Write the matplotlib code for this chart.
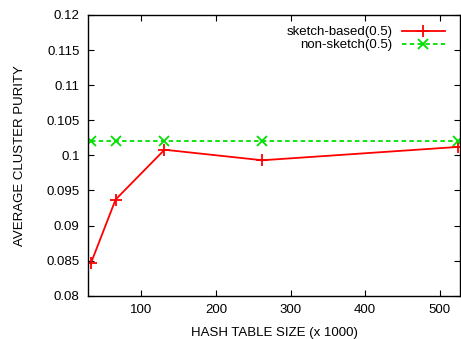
import matplotlib
matplotlib.use("Agg")
import matplotlib.pyplot as plt

plt.rcParams['font.family'] = ['Liberation Sans', 'DejaVu Sans']

# hash table sizes (x 1000)
table_size = [32.768, 65.536, 131.072, 262.144, 524.288]
sketch_purity = [0.0847, 0.0937, 0.1008, 0.0993, 0.1012]
nonsketch_purity = [0.1020, 0.1020, 0.1020, 0.1020, 0.1020]

x_ticks = [100, 200, 300, 400, 500]
y_ticks = [0.08, 0.085, 0.09, 0.095, 0.1, 0.105, 0.11, 0.115, 0.12]
y_ticklabels = ['0.08', '0.085', '0.09', '0.095', '0.1', '0.105', '0.11', '0.115', '0.12']

fig = plt.figure(figsize=(4.61, 3.39), dpi=100)
ax = fig.add_axes([0.1909, 0.1277, 0.807, 0.8281])

ax.plot(table_size, sketch_purity, color='#ff0000', lw=1.3, marker='+',
        markersize=8, markeredgewidth=1.3, label='sketch-based(0.5)')
ax.plot(table_size, nonsketch_purity, color='#00e000', lw=1.3, ls=(0, (2.5, 1.8)),
        marker='x', markersize=7.5, markeredgewidth=1.3, label='non-sketch(0.5)')

ax.set_xlim(28.6, 527)
ax.set_ylim(0.08, 0.12)
ax.set_xticks(x_ticks)
ax.set_yticks(y_ticks)
ax.set_yticklabels(y_ticklabels)
ax.tick_params(direction='in', top=True, right=True, length=4, width=0.8,
               labelsize=9.5, pad=6, colors='black')
ax.tick_params(axis='x', pad=6)
for s in ax.spines.values():
    s.set_linewidth(1.0)

ax.set_xlabel('HASH TABLE SIZE (x 1000)', fontsize=9.5, labelpad=8)
ax.set_ylabel('AVERAGE CLUSTER PURITY', fontsize=9.5, labelpad=15)

ax.legend(loc='upper right', frameon=False, markerfirst=False, fontsize=9.5,
          handlelength=3.3, handletextpad=0.7, labelspacing=0.05,
          borderaxespad=0.3, bbox_to_anchor=(0.985, 0.993))

fig.savefig('out.png', dpi=100)
